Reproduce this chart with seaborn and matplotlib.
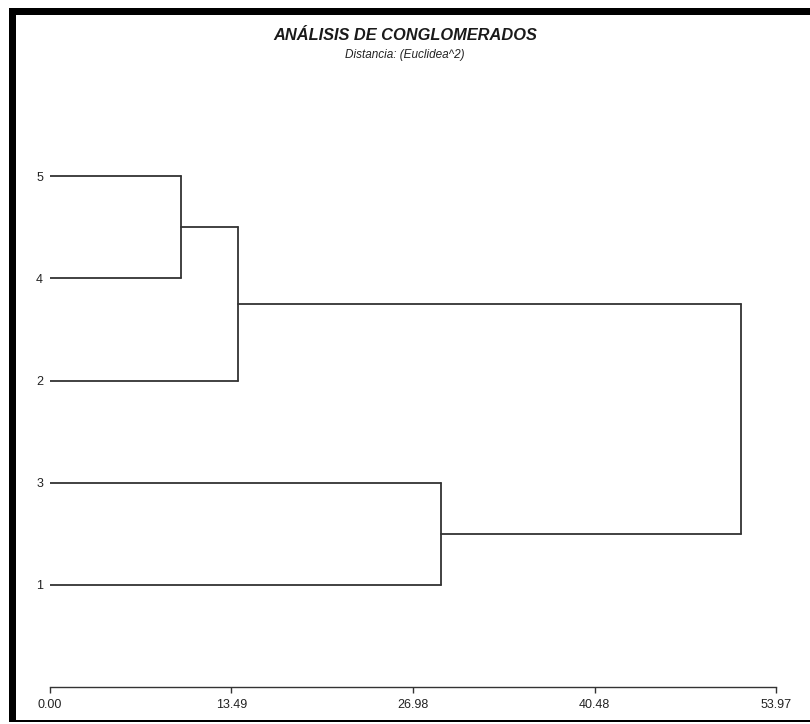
import numpy as np
import pandas as pd
import matplotlib
matplotlib.use("Agg")
import matplotlib.pyplot as plt
from matplotlib import font_manager as fm
from matplotlib.patches import Rectangle
import seaborn as sns

# ---- data ----
leaf_labels = ["1", "3", "2", "4", "5"]          # bottom to top
merge_left = ["5", "C1", "3", "C2"]
merge_right = ["4", "2", "1", "C3"]
merge_names = ["C1", "C2", "C3", "C4"]
merge_heights = [9.74, 13.98, 29.07, 51.38]
axis_max = 53.97
tick_values = [0.00, 13.49, 26.98, 40.48, 53.97]

sns.set_theme(style="white")

names = {f.name for f in fm.fontManager.ttflist}
fam = "Liberation Sans Narrow" if "Liberation Sans Narrow" in names else "Liberation Sans"
plt.rcParams["font.family"] = [fam, "DejaVu Sans"]

# ---- build dendrogram segments ----
pos = {lab: (0.0, i + 1.0) for i, lab in enumerate(leaf_labels)}
rows = []
seg = 0
for a, b, name, h in zip(merge_left, merge_right, merge_names, merge_heights):
    xa, ya = pos[a]
    xb, yb = pos[b]
    for (x0, y0, x1, y1) in [(xa, ya, h, ya), (h, ya, h, yb), (xb, yb, h, yb)]:
        rows.append({"seg": seg, "x": x0, "y": y0, "o": 0})
        rows.append({"seg": seg, "x": x1, "y": y1, "o": 1})
        seg += 1
    pos[name] = (h, (ya + yb) / 2)
df = pd.DataFrame(rows)

fig = plt.figure(figsize=(8.1, 7.24), dpi=100)
ax = fig.add_axes([50 / 810, 1 - 687 / 724, 726 / 810, 613 / 724])

sns.lineplot(data=df, x="x", y="y", units="seg", estimator=None, sort=False,
             color="#333333", linewidth=1.3, ax=ax)

ax.set_xlim(0, axis_max)
ax.set_ylim(0, 6)
ax.set_xlabel("")
ax.set_ylabel("")
ax.set_xticks(tick_values)
ax.set_xticklabels([f"{v:.2f}" for v in tick_values])
ax.set_yticks(range(1, len(leaf_labels) + 1))
ax.set_yticklabels(leaf_labels)
ax.tick_params(axis="x", direction="out", length=4, width=1, color="#333333",
               labelsize=9, labelcolor="#222222", pad=4.5, bottom=True)
ax.tick_params(axis="y", length=0, labelsize=9, labelcolor="#222222", pad=5)
for s in ["left", "right", "top"]:
    ax.spines[s].set_visible(False)
ax.spines["bottom"].set_color("#333333")
ax.spines["bottom"].set_linewidth(1.0)
ax.set_facecolor("white")

fig.text(405 / 810, 1 - 35 / 724, "ANÁLISIS DE CONGLOMERADOS", ha="center", va="center",
         fontsize=11.8, fontweight="bold", fontstyle="italic", color="#1a1a1a")
fig.text(405 / 810, 1 - 55 / 724, "Distancia: (Euclidea^2)", ha="center", va="center",
         fontsize=8.5, fontstyle="italic", color="#222222")

# frame
W, H = 810, 724
def frect(x0, y0, x1, y1):
    fig.patches.append(Rectangle((x0 / W, 1 - y1 / H), (x1 - x0) / W, (y1 - y0) / H,
                                 transform=fig.transFigure, facecolor="black",
                                 edgecolor="none", zorder=10))
frect(9, 8, 810, 15)
frect(9, 8, 16, 722)
frect(9, 720, 810, 722)

fig.savefig("out.png", dpi=100, facecolor="white")
